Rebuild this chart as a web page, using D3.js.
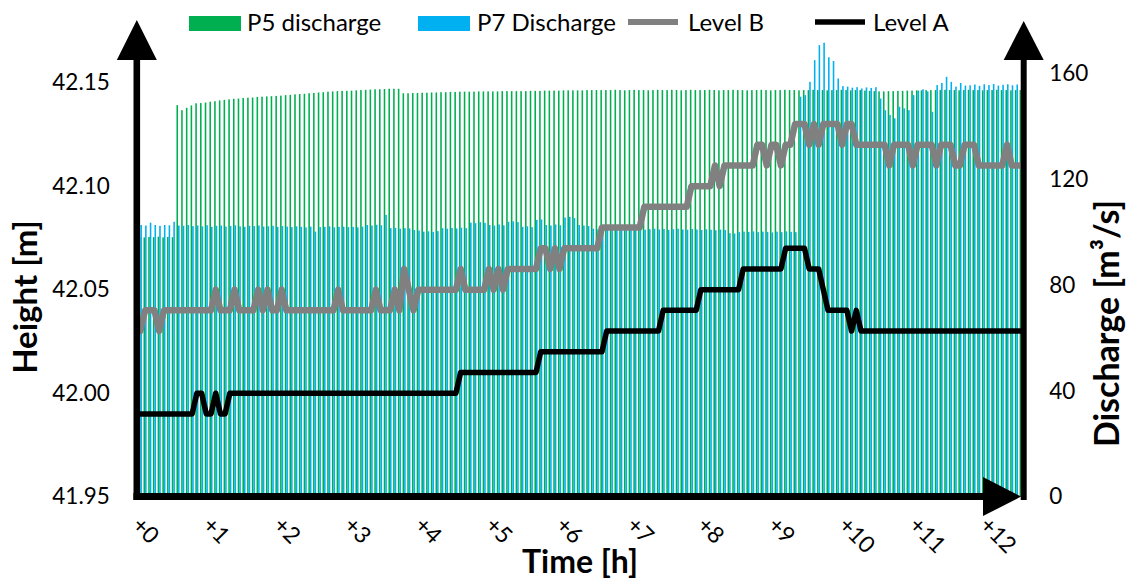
<!DOCTYPE html>
<html>
<head>
<meta charset="utf-8">
<script src="https://cdn.jsdelivr.net/npm/d3@7"></script>
<style>
  html, body { margin: 0; padding: 0; background: #ffffff; }
  svg { display: block; font-family: Lato, "Open Sans", "Liberation Sans", sans-serif; }
</style>
</head>
<body>
<svg id="chart" width="1136" height="581"></svg>
<script>
// Water level readings [m], one sample every 4 minutes
const LEVEL_A = [
  41.99, 41.99, 41.99, 41.99, 41.99, 41.99, 41.99, 41.99, 41.99, 41.99,
  41.99, 41.99, 42.00, 42.00, 41.99, 41.99, 42.00, 41.99, 41.99, 42.00,
  42.00, 42.00, 42.00, 42.00, 42.00, 42.00, 42.00, 42.00, 42.00, 42.00,
  42.00, 42.00, 42.00, 42.00, 42.00, 42.00, 42.00, 42.00, 42.00, 42.00,
  42.00, 42.00, 42.00, 42.00, 42.00, 42.00, 42.00, 42.00, 42.00, 42.00,
  42.00, 42.00, 42.00, 42.00, 42.00, 42.00, 42.00, 42.00, 42.00, 42.00,
  42.00, 42.00, 42.00, 42.00, 42.00, 42.00, 42.00, 42.00, 42.01, 42.01,
  42.01, 42.01, 42.01, 42.01, 42.01, 42.01, 42.01, 42.01, 42.01, 42.01,
  42.01, 42.01, 42.01, 42.01, 42.01, 42.02, 42.02, 42.02, 42.02, 42.02,
  42.02, 42.02, 42.02, 42.02, 42.02, 42.02, 42.02, 42.02, 42.02, 42.03,
  42.03, 42.03, 42.03, 42.03, 42.03, 42.03, 42.03, 42.03, 42.03, 42.03,
  42.03, 42.04, 42.04, 42.04, 42.04, 42.04, 42.04, 42.04, 42.04, 42.05,
  42.05, 42.05, 42.05, 42.05, 42.05, 42.05, 42.05, 42.05, 42.06, 42.06,
  42.06, 42.06, 42.06, 42.06, 42.06, 42.06, 42.06, 42.07, 42.07, 42.07,
  42.07, 42.07, 42.06, 42.06, 42.06, 42.05, 42.04, 42.04, 42.04, 42.04,
  42.04, 42.03, 42.04, 42.03, 42.03, 42.03, 42.03, 42.03, 42.03, 42.03,
  42.03, 42.03, 42.03, 42.03, 42.03, 42.03, 42.03, 42.03, 42.03, 42.03,
  42.03, 42.03, 42.03, 42.03, 42.03, 42.03, 42.03, 42.03, 42.03, 42.03,
  42.03, 42.03, 42.03, 42.03, 42.03, 42.03, 42.03, 42.03
];

const LEVEL_B = [
  42.03, 42.04, 42.04, 42.04, 42.03, 42.04, 42.04, 42.04, 42.04, 42.04,
  42.04, 42.04, 42.04, 42.04, 42.04, 42.04, 42.05, 42.04, 42.04, 42.04,
  42.05, 42.04, 42.04, 42.04, 42.04, 42.05, 42.04, 42.05, 42.04, 42.04,
  42.05, 42.04, 42.04, 42.04, 42.04, 42.04, 42.04, 42.04, 42.04, 42.04,
  42.04, 42.04, 42.05, 42.04, 42.04, 42.04, 42.04, 42.04, 42.04, 42.04,
  42.05, 42.04, 42.04, 42.04, 42.05, 42.04, 42.06, 42.05, 42.04, 42.05,
  42.05, 42.05, 42.05, 42.05, 42.05, 42.05, 42.05, 42.05, 42.06, 42.05,
  42.05, 42.05, 42.05, 42.05, 42.06, 42.05, 42.06, 42.05, 42.06, 42.06,
  42.06, 42.06, 42.06, 42.06, 42.06, 42.07, 42.07, 42.06, 42.07, 42.06,
  42.07, 42.07, 42.07, 42.07, 42.07, 42.07, 42.07, 42.07, 42.08, 42.08,
  42.08, 42.08, 42.08, 42.08, 42.08, 42.08, 42.08, 42.09, 42.09, 42.09,
  42.09, 42.09, 42.09, 42.09, 42.09, 42.09, 42.09, 42.10, 42.10, 42.10,
  42.10, 42.10, 42.11, 42.10, 42.11, 42.11, 42.11, 42.11, 42.11, 42.11,
  42.11, 42.12, 42.12, 42.11, 42.12, 42.12, 42.11, 42.12, 42.12, 42.13,
  42.13, 42.13, 42.12, 42.13, 42.12, 42.13, 42.13, 42.13, 42.13, 42.12,
  42.13, 42.13, 42.12, 42.12, 42.12, 42.12, 42.12, 42.12, 42.12, 42.11,
  42.12, 42.12, 42.12, 42.12, 42.11, 42.12, 42.12, 42.12, 42.12, 42.11,
  42.12, 42.12, 42.12, 42.11, 42.11, 42.12, 42.12, 42.12, 42.11, 42.11,
  42.11, 42.11, 42.11, 42.11, 42.12, 42.11, 42.11, 42.11
];

// Discharge [m3/s] through the two outlets
const P5_DISCHARGE = [
  98.3, 98.0, 98.2, 98.1, 98.3, 98.0, 98.2, 98.1, 148.0, 146.1,
  147.0, 147.9, 148.7, 148.8, 149.0, 149.3, 149.5, 149.8, 150.0, 150.2,
  150.4, 150.5, 150.7, 150.8, 150.9, 151.1, 151.2, 151.3, 151.4, 151.5,
  151.6, 151.8, 151.9, 152.1, 152.2, 152.3, 152.5, 152.6, 152.8, 152.9,
  153.1, 153.2, 153.3, 153.4, 153.4, 153.5, 153.6, 153.7, 153.8, 153.9,
  154.0, 154.0, 154.1, 154.2, 154.2, 154.2, 152.5, 152.5, 152.6, 152.6,
  152.7, 152.7, 152.8, 152.8, 152.9, 152.9, 153.0, 153.0, 153.1, 153.1,
  153.1, 153.1, 153.2, 153.2, 153.2, 153.2, 153.2, 153.3, 153.3, 153.3,
  153.3, 153.3, 153.3, 153.4, 153.4, 153.4, 153.5, 153.5, 153.5, 153.5,
  153.6, 153.6, 153.6, 153.6, 153.6, 153.7, 153.7, 153.7, 153.7, 153.7,
  153.7, 153.8, 153.7, 153.6, 153.7, 153.8, 153.7, 153.7, 153.6, 153.7,
  153.8, 153.7, 153.7, 153.8, 153.7, 153.6, 153.7, 153.8, 153.7, 153.7,
  153.7, 153.8, 153.7, 153.6, 153.7, 153.7, 153.8, 153.7, 153.7, 153.6,
  153.7, 153.7, 153.8, 153.7, 153.6, 153.7, 153.7, 153.8, 153.7, 153.7,
  153.6, 153.7, 153.7, 153.8, 153.7, 153.7, 153.6, 153.7, 153.7, 153.8,
  153.7, 153.6, 153.7, 153.7, 153.5, 153.4, 153.3, 153.2, 153.2, 153.3,
  153.3, 153.4, 153.4, 153.5, 153.5, 153.6, 153.6, 153.7, 153.7, 153.7,
  153.7, 153.8, 153.7, 153.7, 153.6, 153.7, 153.8, 153.7, 153.7, 153.6,
  153.7, 153.7, 153.8, 153.7, 153.7, 153.6, 153.7, 153.7
];

const P7_DISCHARGE = [
  102.7, 102.5, 103.6, 102.7, 102.4, 102.7, 102.6, 103.9, 102.5, 102.4,
  102.7, 102.3, 102.5, 102.2, 102.6, 102.0, 102.4, 102.5, 102.1, 102.3,
  102.6, 102.2, 102.0, 102.4, 102.3, 102.5, 102.1, 102.2, 102.4, 102.0,
  102.3, 102.1, 101.9, 102.2, 102.0, 101.8, 102.1, 100.2, 101.9, 102.0,
  102.2, 101.8, 102.0, 102.1, 101.9, 102.0, 101.8, 102.1, 102.7, 102.5,
  102.8, 102.6, 106.5, 101.5, 101.6, 101.3, 101.5, 101.4, 100.8, 100.6,
  100.2, 100.3, 100.1, 100.4, 101.5, 101.3, 101.6, 101.4, 101.7, 101.5,
  103.6, 103.4, 103.8, 103.5, 102.7, 102.5, 102.9, 102.6, 103.9, 104.1,
  103.8, 102.0, 102.2, 101.9, 104.6, 104.8, 102.7, 102.5, 102.9, 102.6,
  105.5, 105.8, 105.3, 102.7, 102.5, 102.3, 101.3, 101.0, 101.4, 101.2,
  100.9, 101.3, 101.1, 101.5, 101.0, 101.2, 101.4, 100.9, 101.1, 101.3,
  101.0, 101.2, 100.8, 101.1, 101.3, 101.0, 100.9, 101.2, 101.0, 100.8,
  101.1, 100.9, 100.7, 101.0, 100.8, 99.6, 99.5, 100.0, 100.2, 100.1,
  100.3, 100.0, 100.2, 100.1, 99.9, 100.2, 100.0, 100.3, 100.1, 100.0,
  151.2, 151.8, 156.8, 165.0, 170.7, 171.6, 166.1, 164.7, 158.1, 155.2,
  155.0, 154.6, 154.8, 154.3, 154.7, 154.5, 154.8, 150.5, 146.1, 144.3,
  143.0, 147.4, 146.8, 146.1, 151.8, 153.5, 154.0, 153.2, 145.5, 155.6,
  156.4, 158.7, 156.8, 155.0, 156.4, 155.4, 155.5, 155.8, 155.3, 155.9,
  155.6, 156.0, 155.4, 155.7, 155.9, 155.5, 155.8, 155.6
];

const HEIGHT_TICKS = [41.95, 42.00, 42.05, 42.10, 42.15];
const DISCHARGE_TICKS = [0, 40, 80, 120, 160];
const HOUR_LABELS = ["+0", "+1", "+2", "+3", "+4", "+5", "+6", "+7", "+8", "+9", "+10", "+11", "+12"];
const SAMPLES_PER_HOUR = 15;

const SERIES_NAMES = ["P5 discharge", "P7 Discharge", "Level B", "Level A"];
const COLORS = { p5: "#00b050", p7: "#00b0f0", levelB: "#808080", levelA: "#000000" };

// ---- layout ----
const plot = { left: 138, right: 1023.5, top: 20.5, bottom: 496.7 };
const svg = d3.select("#chart");

const cats = d3.range(LEVEL_A.length);
const x = d3.scaleBand().domain(cats).range([plot.left, plot.right]).padding(0);
const xSub = d3.scaleBand().domain(["p5", "p7"]).range([0, x.bandwidth()])
  .paddingInner(0).paddingOuter(0.5);
const yLeft = d3.scaleLinear().domain([41.95, 42.18]).range([plot.bottom, plot.top]);
const yRight = d3.scaleLinear().domain([0, 180]).range([plot.bottom, plot.top]);

// ---- discharge bars ----
const bars = svg.append("g").attr("class", "bars");
const barSeries = [
  { key: "p5", values: P5_DISCHARGE },
  { key: "p7", values: P7_DISCHARGE }
];
barSeries.forEach(s => {
  bars.append("g")
    .attr("fill", COLORS[s.key])
    .selectAll("rect")
    .data(s.values)
    .join("rect")
    .attr("x", (d, i) => x(i) + xSub(s.key))
    .attr("width", xSub.bandwidth())
    .attr("y", d => yRight(d))
    .attr("height", d => yRight(0) - yRight(d));
});

// ---- water level lines ----
const lineGen = d3.line()
  .x((d, i) => x(i) + x.bandwidth() / 2)
  .y(d => yLeft(d));

svg.append("path")
  .datum(LEVEL_B)
  .attr("d", lineGen)
  .attr("fill", "none")
  .attr("stroke", COLORS.levelB)
  .attr("stroke-width", 6.5)
  .attr("stroke-linejoin", "round")
  .attr("stroke-linecap", "round");

svg.append("path")
  .datum(LEVEL_A)
  .attr("d", lineGen)
  .attr("fill", "none")
  .attr("stroke", COLORS.levelA)
  .attr("stroke-width", 5.5)
  .attr("stroke-linejoin", "round")
  .attr("stroke-linecap", "round");

// ---- axis lines with arrow heads ----
const axes = svg.append("g").attr("class", "axis-lines");
const leftX = 136.8, rightX = 1023.7, baseY = 496.6;
axes.append("line").attr("x1", leftX).attr("x2", leftX).attr("y1", 500).attr("y2", 55)
  .attr("stroke", "#000").attr("stroke-width", 6.6);
axes.append("path").attr("d", `M${leftX - 20},60 L${leftX + 20},60 L${leftX},20 Z`).attr("fill", "#000");
axes.append("line").attr("x1", rightX).attr("x2", rightX).attr("y1", 500).attr("y2", 55)
  .attr("stroke", "#000").attr("stroke-width", 6);
axes.append("path").attr("d", `M${rightX - 20},60 L${rightX + 20},60 L${rightX},21 Z`).attr("fill", "#000");
axes.append("line").attr("x1", 133.4).attr("x2", 988).attr("y1", baseY).attr("y2", baseY)
  .attr("stroke", "#000").attr("stroke-width", 7);
axes.append("path").attr("d", `M983,${baseY - 19.5} L983,${baseY + 19.5} L1021,${baseY} Z`).attr("fill", "#000");

// ---- tick labels ----
const leftAxis = svg.append("g")
  .attr("transform", `translate(${leftX},0)`)
  .call(d3.axisLeft(yLeft).tickValues(HEIGHT_TICKS).tickFormat(d3.format(".2f"))
    .tickSize(0).tickPadding(27));
const rightAxis = svg.append("g")
  .attr("transform", `translate(${rightX},0)`)
  .call(d3.axisRight(yRight).tickValues(DISCHARGE_TICKS).tickFormat(d3.format("d"))
    .tickSize(0).tickPadding(25.5));
[leftAxis, rightAxis].forEach(g => {
  g.select(".domain").remove();
  g.selectAll("text").attr("font-size", 22.5).attr("fill", "#000")
    .attr("font-family", "Lato, 'Open Sans', sans-serif");
});

const hourCats = HOUR_LABELS.map((_, h) => h * SAMPLES_PER_HOUR);
const bottomAxis = svg.append("g")
  .attr("transform", `translate(0,${plot.bottom})`)
  .call(d3.axisBottom(x).tickValues(hourCats)
    .tickFormat((d, k) => HOUR_LABELS[k]).tickSize(0));
bottomAxis.select(".domain").remove();
bottomAxis.selectAll("text")
  .attr("x", 0).attr("y", 0).attr("dy", "0.35em")
  .attr("text-anchor", "start")
  .attr("transform", "translate(-4,24) rotate(45)")
  .attr("font-size", 23).attr("fill", "#000")
  .attr("font-family", "Lato, 'Open Sans', sans-serif");

// ---- axis titles ----
svg.append("text").text("Height [m]")
  .attr("transform", "translate(37,297) rotate(-90)")
  .attr("text-anchor", "middle").attr("font-weight", 700).attr("font-size", 33);
svg.append("text").text("Discharge [m³/s]")
  .attr("transform", "translate(1119,323.5) rotate(-90)")
  .attr("text-anchor", "middle").attr("font-weight", 700).attr("font-size", 34);
svg.append("text").text("Time [h]")
  .attr("x", 580).attr("y", 573)
  .attr("text-anchor", "middle").attr("font-weight", 700).attr("font-size", 32);

// ---- legend ----
const legend = svg.append("g").attr("font-size", 24);
legend.append("rect").attr("x", 189).attr("y", 16).attr("width", 52).attr("height", 15).attr("fill", COLORS.p5);
legend.append("text").attr("x", 247).attr("y", 31).text(SERIES_NAMES[0]);
legend.append("rect").attr("x", 418).attr("y", 16).attr("width", 52).attr("height", 15).attr("fill", COLORS.p7);
legend.append("text").attr("x", 477).attr("y", 31).text(SERIES_NAMES[1]);
legend.append("line").attr("x1", 628).attr("x2", 678).attr("y1", 22).attr("y2", 22)
  .attr("stroke", COLORS.levelB).attr("stroke-width", 6);
legend.append("text").attr("x", 688).attr("y", 31).text(SERIES_NAMES[2]);
legend.append("line").attr("x1", 815).attr("x2", 865).attr("y1", 22).attr("y2", 22)
  .attr("stroke", COLORS.levelA).attr("stroke-width", 5.5);
legend.append("text").attr("x", 873).attr("y", 31).text(SERIES_NAMES[3]);
</script>
</body>
</html>
